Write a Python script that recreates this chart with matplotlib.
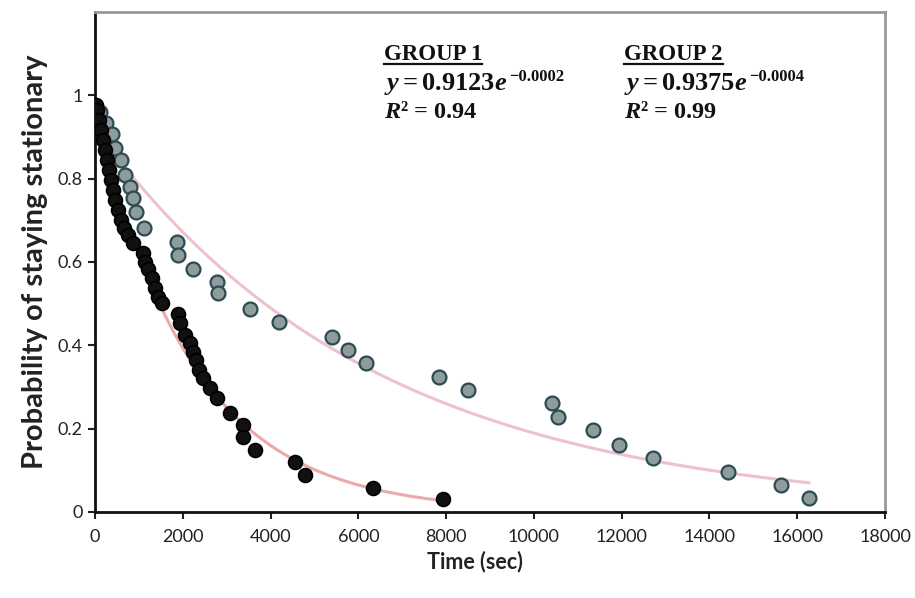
import numpy as np
import matplotlib
matplotlib.use("Agg")
import matplotlib.pyplot as plt
from matplotlib.lines import Line2D

# ---------------- data ----------------
g1_time = [23, 46, 91, 137, 182, 228, 274, 319, 365, 411, 456, 525, 593, 661, 753, 867,
           1095, 1140, 1209, 1300, 1369, 1437, 1528, 1893, 1939, 2053, 2167, 2235, 2304,
           2372, 2463, 2623, 2783, 3079, 3376, 3376, 3650, 4562, 4790, 6341, 7938]
g1_prob = [0.978, 0.964, 0.940, 0.916, 0.892, 0.868, 0.845, 0.820, 0.796, 0.772, 0.748,
           0.724, 0.700, 0.681, 0.664, 0.645, 0.621, 0.600, 0.583, 0.561, 0.537, 0.516,
           0.501, 0.475, 0.453, 0.424, 0.405, 0.384, 0.365, 0.341, 0.321, 0.297, 0.273,
           0.237, 0.209, 0.180, 0.149, 0.120, 0.089, 0.058, 0.031]

g2_time = [114, 251, 388, 456, 593, 684, 798, 867, 935, 1118, 1870, 1893, 2235, 2783,
           2806, 3536, 4197, 5406, 5771, 6182, 7847, 8508, 10424, 10538, 11336, 11930,
           12705, 14416, 15625, 16264]
g2_prob = [0.959, 0.933, 0.906, 0.873, 0.844, 0.808, 0.779, 0.753, 0.719, 0.681, 0.647,
           0.616, 0.583, 0.552, 0.525, 0.487, 0.456, 0.420, 0.388, 0.357, 0.324, 0.293,
           0.261, 0.228, 0.197, 0.161, 0.129, 0.096, 0.065, 0.034]

x_ticks = [0, 2000, 4000, 6000, 8000, 10000, 12000, 14000, 16000, 18000]
y_ticks = [0, 0.2, 0.4, 0.6, 0.8, 1.0]
y_tick_labels = ["0", "0.2", "0.4", "0.6", "0.8", "1"]

labels = ["GROUP 1", "GROUP 2"]
eq_base = [r"$\mathit{y} = 0.9123\mathit{e}$", r"$\mathit{y} = 0.9375\mathit{e}$"]
eq_exp = ["\u22120.0002", "\u22120.0004"]
r2_texts = [r"$\mathit{R}$² = 0.94", r"$\mathit{R}$² = 0.99"]

# ---------------- figure ----------------
plt.rcParams["mathtext.fontset"] = "custom"
plt.rcParams["mathtext.rm"] = "Liberation Serif:bold"
plt.rcParams["mathtext.it"] = "Liberation Serif:bold:italic"
plt.rcParams["mathtext.bf"] = "Liberation Serif:bold"
plt.rcParams["mathtext.default"] = "rm"

W, H = 915, 598
fig = plt.figure(figsize=(W / 100, H / 100), dpi=100)
ax = fig.add_axes([95 / W, 1 - 512 / H, 790 / W, 500 / H])

# exponential trendlines fitted to the data (ln y vs x)
for tx, py, col in [(g1_time, g1_prob, "#e89a9a"), (g2_time, g2_prob, "#ecb6c6")]:
    tx = np.asarray(tx, float)
    py = np.asarray(py, float)
    b, a = np.polyfit(tx, np.log(py), 1)
    xs = np.linspace(0, tx.max(), 200)
    ax.plot(xs, np.exp(a) * np.exp(b * xs), color=col, lw=2.2, alpha=0.85, zorder=1)

ax.plot(g2_time, g2_prob, "o", ms=10, mfc="#8f9c9c", mec="#2c4b55", mew=1.6, zorder=3)
ax.plot(g1_time, g1_prob, "o", ms=10, mfc="#111111", mec="#000000", mew=1.2, zorder=4)

ax.set_xlim(0, 18000)
ax.set_ylim(0, 1.2)
ax.set_xticks(x_ticks)
ax.set_xticklabels([str(v) for v in x_ticks])
ax.set_yticks(y_ticks)
ax.set_yticklabels(y_tick_labels)

for lab in ax.get_xticklabels() + ax.get_yticklabels():
    lab.set_fontfamily(["Lato", "DejaVu Sans"])
    lab.set_fontsize(13)
    lab.set_color("#222222")
ax.tick_params(axis="both", direction="out", length=5, width=1.5, color="#222222")
ax.tick_params(axis="x", pad=7)
ax.tick_params(axis="y", pad=4)

for s in ["left", "bottom"]:
    ax.spines[s].set_color("#111111")
    ax.spines[s].set_linewidth(2)
for s in ["top", "right"]:
    ax.spines[s].set_color("#999999")
    ax.spines[s].set_linewidth(2)

ax.set_xlabel("Time (sec)", fontsize=15.5, fontweight="bold",
              family=["Lato", "DejaVu Sans"], color="#222222")
ax.xaxis.set_label_coords((475 - 95) / 790, -(562 - 512) / 500, transform=ax.transAxes)
ax.set_ylabel("Probability of staying stationary", fontsize=21, fontweight="bold",
              family=["Lato", "DejaVu Sans"], color="#222222")
ax.yaxis.set_label_coords(-(95 - 35) / 790, (512 - 262) / 500, transform=ax.transAxes)
ax.xaxis.label.set_va("center")
ax.yaxis.label.set_va("center")

# annotations
serif = ["Liberation Serif", "DejaVu Serif"]
col_x = [384 / W, 624 / W]
heads = []
bases = []
for i in range(2):
    yb = 1 - 60 / H
    t = fig.text(col_x[i], yb, labels[i], fontsize=16.5, fontweight="bold",
                 family=serif, color="#111111", ha="left", va="baseline")
    heads.append((t, yb))
    tb = fig.text(col_x[i], 1 - 90 / H, eq_base[i], fontsize=19,
                  color="#111111", ha="left", va="baseline")
    bases.append(tb)
    fig.text(col_x[i], 1 - 118 / H, r2_texts[i], fontsize=17.5, fontweight="bold",
             family=serif, color="#111111", ha="left", va="baseline")

fig.canvas.draw()
inv = fig.transFigure.inverted()
for t, yb in heads:
    bb = t.get_window_extent()
    (x0, _), (x1, _) = inv.transform([(bb.x0, bb.y0), (bb.x1, bb.y0)])
    yl = yb - 3.5 / H
    fig.add_artist(Line2D([x0, x1], [yl, yl], transform=fig.transFigure,
                          color="#111111", lw=1.6))
for i, tb in enumerate(bases):
    bb = tb.get_window_extent()
    xe = inv.transform((bb.x1 + 2, 0))[0]
    fig.text(xe, 1 - 81 / H, eq_exp[i], fontsize=12, fontweight="bold",
             family=serif, color="#111111", ha="left", va="baseline")

fig.savefig("out.png", dpi=100)
